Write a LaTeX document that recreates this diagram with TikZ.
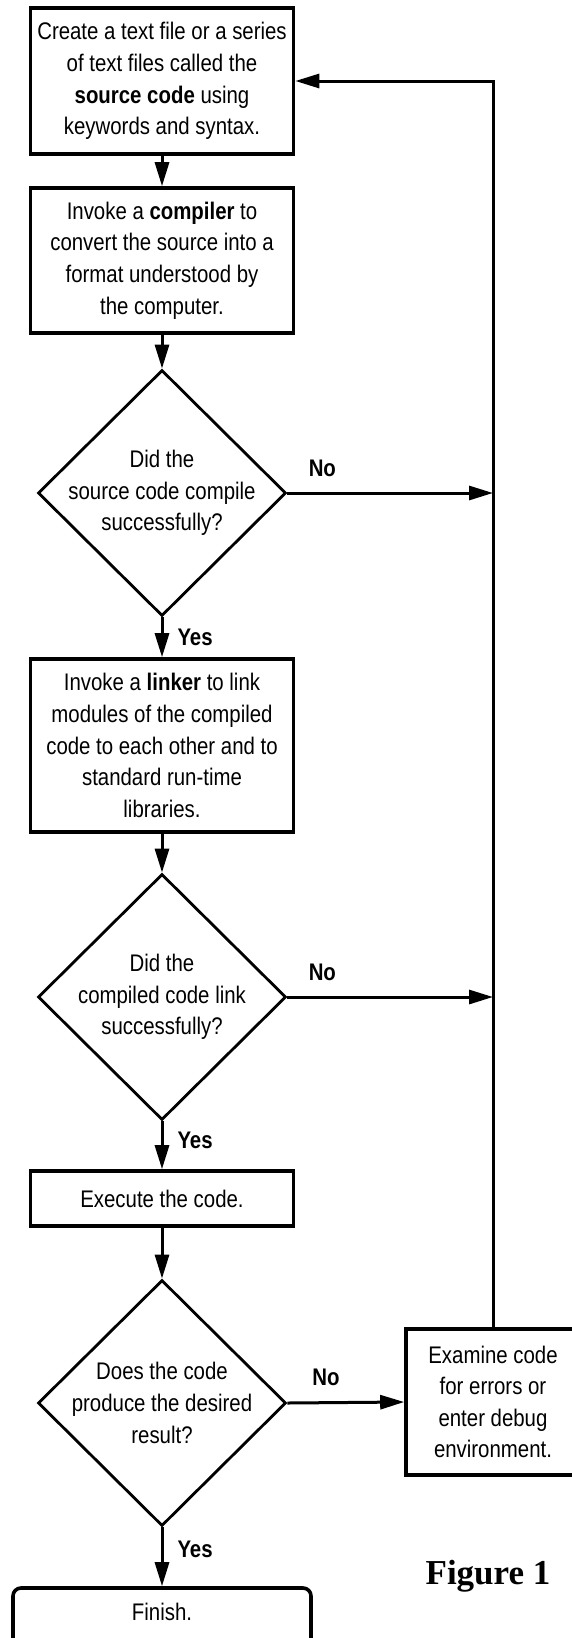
\documentclass[tikz,border=0pt]{standalone}
\usepackage{fontspec}
\setmainfont{Liberation Sans}[FakeStretch=0.85]
\newfontfamily\figfont{Liberation Serif}
\usetikzlibrary{arrows.meta,positioning,shapes.geometric}

\begin{document}
\begin{tikzpicture}[x=0.5pt,y=-0.5pt,
  every node/.append style={font=\fontsize{12}{15.8}\selectfont},
  box/.style={draw,line width=1.8pt,minimum width=131.5pt,inner sep=0pt,align=center},
  dec/.style={draw,diamond,line width=1.4pt,minimum width=124pt,minimum height=123pt,inner sep=0pt},
  arr/.style={line width=1.5pt,-{Triangle[length=12pt,width=7pt]}},
  lbl/.style={font=\fontsize{12}{15.8}\selectfont\bfseries,inner sep=0pt}]

\useasboundingbox (0,0) rectangle (572,1638);
\clip (0,0) rectangle (572,1638);

\node [box,minimum height=73pt] (S) at (162,81) {Create a text file or a series\\of text files called the\\\textbf{source code} using\\keywords and syntax.};
\node [box,minimum height=72.5pt] (C) at (162,260.5) {Invoke a \textbf{compiler} to\\convert the source into a\\format understood by\\the computer.};
\node [dec,label={[align=center]center:{Did the\\source code compile\\successfully?}}] (D1) at (162,493) {};
\node [box,minimum height=86.5pt] (L) at (162,745.5) {Invoke a \textbf{linker} to link\\modules of the compiled\\code to each other and to\\standard run-time\\libraries.};
\node [dec,label={[align=center]center:{Did the\\compiled code link\\successfully?}}] (D2) at (162,997) {};
\node [box,minimum height=27.5pt] (X) at (162,1198.5) {Execute the code.};
\node [dec,label={[align=center]center:{Does the code\\produce the desired\\result?}}] (D3) at (162,1403) {};
\node [box,minimum width=87pt,minimum height=73pt] (E) at (493,1402) {Examine code\\for errors or\\enter debug\\environment.};
\node [box,rounded corners=4pt,minimum width=149pt,minimum height=32pt,text depth=8pt] (F) at (162,1620) {Finish.};
\node [font=\figfont\bfseries\fontsize{17.5}{20}\selectfont,anchor=base] (T) at (488,1584) {Figure 1};

\draw [arr] (S) -- (C);
\draw [arr] (C) -- (D1);
\draw [arr] (D1) -- (L) node [lbl,midway,right=7pt] {Yes};
\draw [arr] (L) -- (D2);
\draw [arr] (D2) -- (X) node [lbl,pos=.4,right=7pt] {Yes};
\draw [arr] (X) -- (D3);
\draw [arr] (D3) -- (F) node [lbl,pos=.37,right=7pt] {Yes};
\draw [arr] (D1.east) -- (D1.east -| E.north) node [lbl,pos=.17,above=7.5pt] {No};
\draw [arr] (D2.east) -- (D2.east -| E.north) node [lbl,pos=.17,above=7.5pt] {No};
\draw [arr] (D3.east) -- (E.west) node [lbl,pos=.33,above=7.5pt] {No};
\draw [arr] (E.north) -- (E.north |- S.east) -- (S.east);
\end{tikzpicture}
\end{document}
